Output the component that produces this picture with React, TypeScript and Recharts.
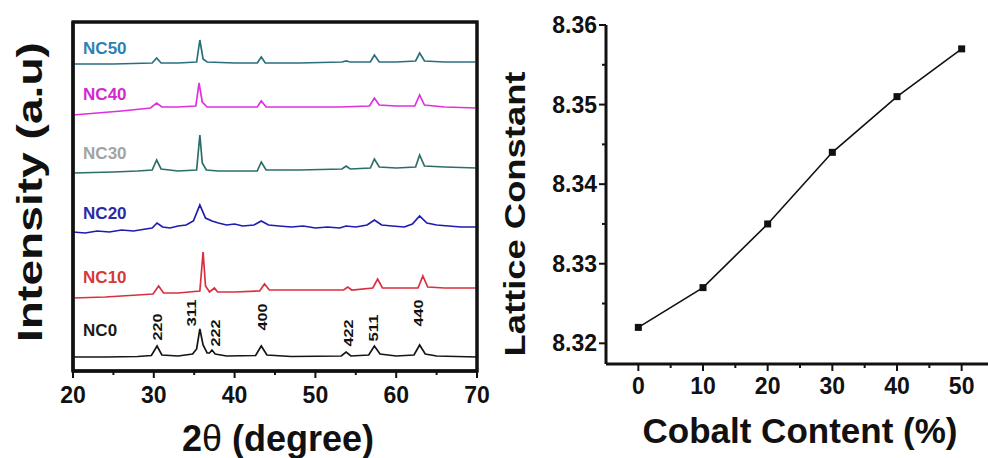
import React from "react";
import { LineChart, Line, XAxis, YAxis, ReferenceDot, ReferenceArea } from "recharts";

// XRD patterns, one row per sample: [2θ, intensity above the sample's own baseline] (a.u.)
const samples = ["NC0", "NC10", "NC20", "NC30", "NC40", "NC50"];
const traceColors = ["#151515", "#d9303f", "#1c1cb0", "#2b6e69", "#df2fdf", "#2a6f7c"];
const labelColors = ["#1a1a1a", "#d33a3a", "#2a2aa8", "#a3a3a3", "#d22ad2", "#2f80b4"];
const stackOffsets = [14, 73, 139, 198, 256, 307];
const labelLevels = [41, 94, 158, 218, 277, 323];

const nc0 = [
  [20, 0], [24, 0], [28, 0.5], [29.7, 1.5], [30.4, 11], [31.0, 2], [33, 1], [34.8, 3], [35.3, 8],
  [35.7, 28], [36.1, 12], [36.6, 4], [36.9, 4], [37.2, 7], [37.6, 3], [39, 1], [42.6, 1.5],
  [43.3, 11], [44.0, 2], [47, 0.5], [53.2, 1], [53.8, 5], [54.4, 1], [56.6, 2], [57.3, 11],
  [58.0, 3], [60, 1], [62.2, 2], [62.9, 12], [63.6, 3], [65, 1], [70, 0],
];
const nc10 = [
  [20, 0], [24, 1], [28, 3], [29.9, 4], [30.6, 12], [31.2, 5], [33, 5], [35.7, 7], [36.1, 46],
  [36.4, 12], [36.9, 6], [37.5, 10], [37.9, 6], [40, 6], [43.1, 7], [43.7, 14], [44.3, 8], [48, 8],
  [53.5, 8], [54.0, 11], [54.5, 8], [57.1, 10], [57.7, 19], [58.3, 10], [60, 10], [62.7, 10],
  [63.3, 22], [63.9, 11], [66, 10], [70, 10],
];
const nc20 = [
  [20, 0], [21.5, -1], [23, 1], [24.5, 0], [26, 2], [27.5, 1], [29, 3], [29.8, 4], [30.4, 9],
  [31.1, 5], [32, 4], [33, 6], [34, 7], [34.9, 11], [35.7, 27], [36.4, 14], [37.2, 11], [38, 9],
  [39, 7], [40, 8], [41, 6], [42.4, 7], [43.3, 11], [44.2, 7], [45.5, 6], [47, 5], [48.5, 6],
  [50, 4], [51.5, 5], [53, 4], [53.8, 6], [55, 5], [56.4, 7], [57.3, 12], [58.2, 7], [59.5, 6],
  [61, 5], [62, 8], [62.9, 16], [63.8, 9], [65, 7], [66.5, 6], [68, 5], [70, 5],
];
const nc30 = [
  [20, 0], [25, 1], [28, 2], [29.8, 3], [30.35, 13], [30.9, 4], [33, 2], [35.3, 3], [35.7, 38],
  [36.0, 10], [36.5, 3], [38, 2], [42.8, 2], [43.3, 11], [43.9, 3], [48, 3], [53.3, 4],
  [53.8, 7], [54.3, 4], [56.8, 5], [57.3, 14], [57.9, 6], [60, 5], [62.4, 6], [62.9, 18],
  [63.5, 7], [66, 6], [70, 5],
];
const nc40 = [
  [20, 0], [23, 2], [26, 4], [29.6, 7], [30.35, 12], [31.0, 8], [33, 8], [35.2, 9], [35.6, 32],
  [36.0, 13], [36.6, 8], [40, 8], [42.8, 8], [43.3, 14], [43.9, 8], [48, 8], [53, 8], [56.7, 9],
  [57.3, 17], [57.9, 10], [60, 9], [62.3, 9], [62.9, 20], [63.5, 10], [66, 8], [70, 7],
];
const nc50 = [
  [20, 0], [25, 0], [29.8, 1], [30.35, 6], [30.9, 1], [33, 1], [35.3, 2], [35.7, 24], [36.1, 5],
  [36.6, 2], [40, 1], [42.8, 1], [43.3, 7], [43.8, 1], [48, 1], [53.3, 2], [53.8, 3], [54.3, 2],
  [56.8, 2], [57.3, 9], [57.9, 2], [60, 2], [62.4, 3], [62.9, 11], [63.5, 3], [66, 2], [70, 2],
];
const patterns = [nc0, nc10, nc20, nc30, nc40, nc50];

// Miller indices marked over the NC0 pattern
const hklLabels = ["220", "311", "222", "400", "422", "511", "440"];
const hklPositions = [30.5, 34.7, 37.7, 43.5, 54.1, 57.3, 62.8];
const hklLevels = [44, 58, 38, 54, 38, 43, 58];

const twoThetaTicks = [20, 30, 40, 50, 60, 70];
const twoThetaMinor = [25, 35, 45, 55, 65];

// Lattice constant vs cobalt content
const cobaltContent = [0, 10, 20, 30, 40, 50];
const latticeConstant = [8.322, 8.327, 8.335, 8.344, 8.351, 8.357];
const cobaltTicks = [0, 10, 20, 30, 40, 50];
const cobaltMinor = [5, 15, 25, 35, 45];
const latticeTicks = [8.32, 8.33, 8.34, 8.35, 8.36];
const latticeMinor = [8.325, 8.335, 8.345, 8.355];

const FONT = "'Liberation Sans', Arial, Helvetica, sans-serif";
const INK = "#111";
const axisLine = { stroke: INK, strokeWidth: 3 };
const MAJOR = 7;
const MINOR = 4;
const GAP = 7;

// XRD panel layout
const XRD_W = 490;
const XRD_H = 458;
const XRD_MARGIN = { top: 22, right: 13, bottom: 27, left: 0 };
const XRD_YAXIS_W = 73;
const XRD_XAXIS_H = 60;

const sortTicks = (a: number[], b: number[]) => [...a, ...b].sort((p, q) => p - q);
const isMajor = (list: number[], v: number) => list.some((m) => Math.abs(m - v) < 1e-9);

// bottom-axis tick: y arrives already pushed down by tick size + margin
function bottomTick(majors: number[], fmt: (v: number) => string, margin: number) {
  return ({ x, y, payload }: any) => {
    const base = y - MAJOR - margin;
    const major = isMajor(majors, payload.value);
    return (
      <g>
        <line x1={x} x2={x} y1={base} y2={base + (major ? MAJOR : MINOR)} stroke={INK} strokeWidth={2} />
        {major && (
          <text x={x} y={y} dy="0.71em" textAnchor="middle" fontFamily={FONT} fontSize={23} fontWeight={700} fill={INK}>
            {fmt(payload.value)}
          </text>
        )}
      </g>
    );
  };
}

// left-axis tick: x arrives already pulled left by tick size + margin
function leftTick(majors: number[], fmt: (v: number) => string, margin: number) {
  return ({ x, y, payload }: any) => {
    const base = x + MAJOR + margin;
    const major = isMajor(majors, payload.value);
    return (
      <g>
        <line x1={base} x2={base - (major ? MAJOR : MINOR)} y1={y} y2={y} stroke={INK} strokeWidth={2} />
        {major && (
          <text x={x} y={y} textAnchor="end" dominantBaseline="central" fontFamily={FONT} fontSize={23} fontWeight={700} fill={INK}>
            {fmt(payload.value)}
          </text>
        )}
      </g>
    );
  };
}

function VerticalTitle({ x, y, text, size, length }: any) {
  return (
    <text
      x={x}
      y={y}
      transform={`rotate(-90 ${x} ${y})`}
      textAnchor="middle"
      dominantBaseline="central"
      fontFamily={FONT}
      fontSize={size}
      fontWeight={700}
      fill={INK}
      textLength={length}
      lengthAdjust="spacingAndGlyphs"
    >
      {text}
    </text>
  );
}

function XrdPanel() {
  const traces = patterns.map((pts, i) => pts.map(([t, v]) => ({ t, y: stackOffsets[i] + v })));
  return (
    <LineChart width={XRD_W} height={XRD_H} data={traces[0]} margin={XRD_MARGIN}>
      {/* full plot frame */}
      <ReferenceArea
        x1={20}
        x2={70}
        y1={0}
        y2={349}
        fill="none"
        fillOpacity={0}
        stroke={INK}
        strokeWidth={3}
        ifOverflow="visible"
      />
      <XAxis
        type="number"
        dataKey="t"
        domain={[20, 70]}
        allowDataOverflow
        ticks={sortTicks(twoThetaTicks, twoThetaMinor)}
        interval={0}
        tickSize={MAJOR}
        tickMargin={GAP + 2}
        height={XRD_XAXIS_H}
        axisLine={axisLine}
        tickLine={false}
        tick={bottomTick(twoThetaTicks, String, GAP + 2)}
        label={{
          content: ({ viewBox }: any) => (
            <text
              x={viewBox.x + viewBox.width / 2 + 3}
              y={viewBox.y + 67}
              textAnchor="middle"
              dominantBaseline="central"
              fontFamily={FONT}
              fontSize={36}
              fontWeight={700}
              fill={INK}
            >
              2<tspan fontWeight={400}>θ</tspan> (degree)
            </text>
          ),
        }}
      />
      <YAxis
        type="number"
        domain={[0, 349]}
        allowDataOverflow
        width={XRD_YAXIS_W}
        tick={false}
        tickLine={false}
        axisLine={axisLine}
        label={{
          content: ({ viewBox }: any) => (
            <VerticalTitle x={viewBox.x + 29} y={192} text="Intensity (a.u)" size={35} length={300} />
          ),
        }}
      />
      {traces.map((tr, i) => (
        <Line
          key={samples[i]}
          data={tr}
          dataKey="y"
          type="linear"
          stroke={traceColors[i]}
          strokeWidth={1.7}
          dot={false}
          activeDot={false}
          isAnimationActive={false}
        />
      ))}
      {samples.map((name, i) => (
        <ReferenceDot
          key={`lbl-${name}`}
          x={21.25}
          y={labelLevels[i]}
          r={0}
          fill="none"
          stroke="none"
          label={{
            content: ({ viewBox }: any) => (
              <text
                x={viewBox.x}
                y={viewBox.y + viewBox.height / 2}
                dominantBaseline="central"
                fontFamily={FONT}
                fontSize={17}
                fontWeight={700}
                fill={labelColors[i]}
              >
                {name}
              </text>
            ),
          }}
        />
      ))}
      {hklLabels.map((hkl, i) => (
        <ReferenceDot
          key={`hkl-${hkl}`}
          x={hklPositions[i]}
          y={hklLevels[i]}
          r={0}
          fill="none"
          stroke="none"
          label={{
            content: ({ viewBox }: any) => {
              const cx = viewBox.x + viewBox.width / 2;
              const cy = viewBox.y + viewBox.height / 2;
              return (
                <text
                  x={cx}
                  y={cy}
                  transform={`rotate(-90 ${cx} ${cy})`}
                  textAnchor="middle"
                  dominantBaseline="central"
                  fontFamily={FONT}
                  fontSize={12}
                  fontWeight={700}
                  fill={INK}
                  textLength={27}
                  lengthAdjust="spacingAndGlyphs"
                >
                  {hkl}
                </text>
              );
            },
          }}
        />
      ))}
    </LineChart>
  );
}

function SquareDot({ cx, cy }: any) {
  if (cx == null || cy == null) return null;
  return <rect x={cx - 3.5} y={cy - 3.5} width={7} height={7} fill={INK} />;
}

function LatticePanel() {
  const rows = cobaltContent.map((c, i) => ({ c, a: latticeConstant[i] }));
  return (
    <LineChart width={520} height={458} data={rows} margin={{ top: 25, right: 6, bottom: 34, left: 0 }}>
      <XAxis
        type="number"
        dataKey="c"
        domain={[-5, 55]}
        allowDataOverflow
        ticks={sortTicks(cobaltTicks, cobaltMinor)}
        interval={0}
        tickSize={MAJOR}
        tickMargin={GAP}
        height={60}
        axisLine={axisLine}
        tickLine={false}
        tick={bottomTick(cobaltTicks, String, GAP)}
        label={{
          content: ({ viewBox }: any) => (
            <text
              x={viewBox.x + viewBox.width / 2}
              y={viewBox.y + 66}
              textAnchor="middle"
              dominantBaseline="central"
              fontFamily={FONT}
              fontSize={35}
              fontWeight={700}
              fill={INK}
            >
              Cobalt Content (%)
            </text>
          ),
        }}
      />
      {/* mirrored axis closes the frame along the top */}
      <XAxis
        xAxisId="frame"
        orientation="top"
        type="number"
        dataKey="c"
        domain={[-5, 55]}
        allowDataOverflow
        height={0}
        tick={false}
        tickLine={false}
        axisLine={axisLine}
      />
      <YAxis
        type="number"
        domain={[8.3174, 8.36]}
        allowDataOverflow
        ticks={sortTicks(latticeTicks, latticeMinor)}
        interval={0}
        width={126}
        tickSize={MAJOR}
        tickMargin={2}
        axisLine={axisLine}
        tickLine={false}
        tick={leftTick(latticeTicks, (v) => v.toFixed(2), 2)}
        label={{
          content: ({ viewBox }: any) => (
            <VerticalTitle x={viewBox.x + 34} y={214} text="Lattice Constant" size={30} length={285} />
          ),
        }}
      />
      <Line
        dataKey="a"
        type="linear"
        stroke={INK}
        strokeWidth={1.6}
        dot={<SquareDot />}
        activeDot={false}
        isAnimationActive={false}
      />
    </LineChart>
  );
}

export default function App() {
  const plotLeft = XRD_MARGIN.left + XRD_YAXIS_W;
  const plotW = XRD_W - plotLeft - XRD_MARGIN.right;
  const plotH = XRD_H - XRD_MARGIN.top - XRD_MARGIN.bottom - XRD_XAXIS_H;
  return (
    <div
      style={{
        position: "absolute",
        left: 0,
        top: 0,
        width: 988,
        height: 458,
        overflow: "hidden",
        background: "#fff",
      }}
    >
      <div style={{ position: "absolute", left: 480, top: 0 }}>
        <LatticePanel />
      </div>
      <div style={{ position: "absolute", left: 0, top: 0 }}>
        <XrdPanel />
      </div>
      {/* XRD frame, laid over both charts */}
      <svg
        width={XRD_W}
        height={XRD_H}
        style={{ position: "absolute", left: 0, top: 0, pointerEvents: "none" }}
      >
        <rect
          x={plotLeft}
          y={XRD_MARGIN.top}
          width={plotW}
          height={plotH}
          fill="none"
          stroke={INK}
          strokeWidth={3}
        />
      </svg>
    </div>
  );
}
